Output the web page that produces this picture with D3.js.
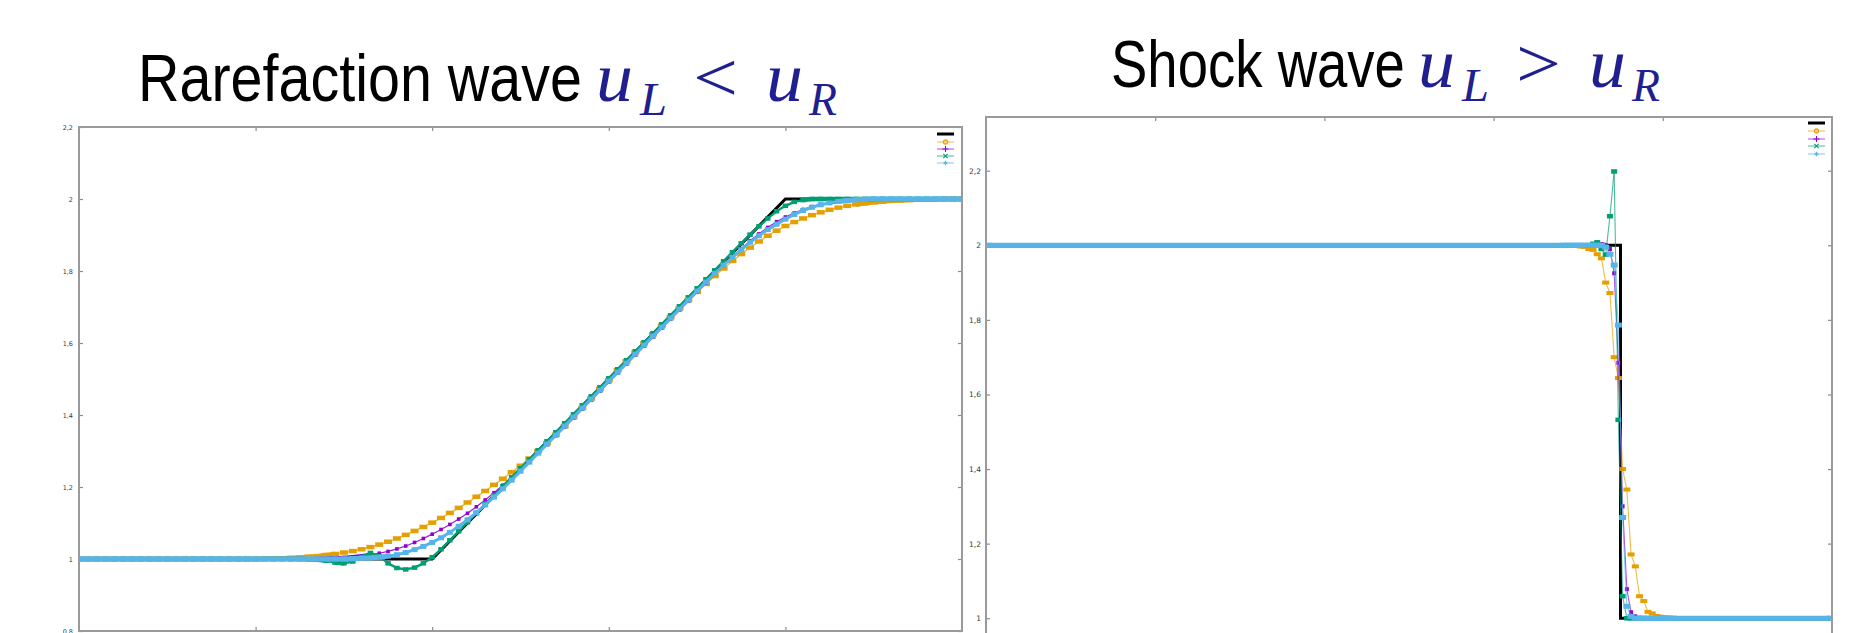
<!DOCTYPE html>
<html><head><meta charset="utf-8">
<script src="https://cdn.jsdelivr.net/npm/d3@7"></script>
<style>html,body{margin:0;padding:0;background:#fff;} svg{display:block;}</style>
</head><body>
<svg id="chart" width="1860" height="633"></svg>
<script>
// ---------------- DATA ----------------
const titleLeft = "Rarefaction wave";
const titleRight = "Shock wave";
const mathLeft = ["u", "L", "<", "u", "R"];
const mathRight = ["u", "L", ">", "u", "R"];

const leftYTicks = [0.8, 1, 1.2, 1.4, 1.6, 1.8, 2, 2.2];
const leftYLabels = ["0,8", "1", "1,2", "1,4", "1,6", "1,8", "2", "2,2"];
const rightYTicks = [1, 1.2, 1.4, 1.6, 1.8, 2, 2.2];
const rightYLabels = ["1", "1,2", "1,4", "1,6", "1,8", "2", "2,2"];
const leftXTicks = [0.2, 0.4, 0.6, 0.8];
const rightXTicks = [40, 80, 120, 160];

// Rarefaction: values at grid points i/100, i = 0..100
const leftGridSize = 100;
const leftExactX = [0, 0.4, 0.8, 1];
const leftExactY = [1, 1, 2, 2];
const leftOrange = [1,1,1,1,1,1,1,1,1,1,1,1,1,1,1,1,1,1,1,1,
  1.000,1.001,1.001,1.002,1.003,1.004,1.006,1.008,1.011,1.014,
  1.018,1.022,1.027,1.033,1.040,1.048,1.057,1.067,1.078,1.089,
  1.101,1.114,1.128,1.142,1.157,1.173,1.189,1.206,1.223,1.241,
  1.259,1.279,1.300,1.322,1.345,1.369,1.394,1.420,1.446,1.472,
  1.497,1.524,1.549,1.574,1.599,1.624,1.648,1.672,1.696,1.719,
  1.742,1.764,1.786,1.807,1.828,1.847,1.865,1.882,1.898,1.912,
  1.925,1.936,1.946,1.955,1.963,1.970,1.976,1.981,1.985,1.988,
  1.991,1.993,1.995,1.996,1.997,1.998,1.999,1.999,2,2,2];
const leftPurple = [1,1,1,1,1,1,1,1,1,1,1,1,1,1,1,1,1,1,1,1,1,1,1,1,1,1,
  1.000,1.001,1.002,1.003,
  1.004,1.006,1.009,1.012,1.016,1.021,1.028,1.036,1.046,1.057,
  1.069,1.082,1.096,1.111,1.127,1.145,1.164,1.184,1.205,1.226,
  1.248,1.271,1.294,1.318,1.342,1.366,1.391,1.416,1.441,1.466,
  1.491,1.516,1.541,1.566,1.591,1.616,1.641,1.666,1.691,1.716,
  1.741,1.766,1.791,1.815,1.839,1.862,1.884,1.903,1.921,1.937,
  1.950,1.961,1.971,1.979,1.985,1.990,1.993,1.995,1.997,1.998,
  1.999,2,2,2,2,2,2,2,2,2,2];
const leftGreen = [1,1,1,1,1,1,1,1,1,1,1,1,1,1,1,1,1,1,1,1,1,1,1,1,1,1,
  0.999,0.998,0.995,0.990,
  0.988,0.993,1.006,1.017,1.008,0.988,0.975,0.971,0.976,0.988,
  1.005,1.027,1.052,1.077,1.102,1.127,1.152,1.177,1.202,1.227,
  1.252,1.277,1.302,1.327,1.352,1.377,1.402,1.427,1.452,1.477,
  1.502,1.527,1.552,1.577,1.602,1.627,1.652,1.677,1.702,1.727,
  1.752,1.777,1.802,1.827,1.852,1.877,1.901,1.924,1.946,1.966,
  1.981,1.992,1.997,
  2,2,2,2,2,2,2,2,2,2,2,2,2,2,2,2,2,2];
const leftBlue = [1,1,1,1,1,1,1,1,1,1,1,1,1,1,1,1,1,1,1,1,1,1,1,1,1,1,1,1,1,1,
  1.000,1.001,1.002,1.003,1.005,1.008,1.012,1.018,1.026,1.035,
  1.046,1.059,1.074,1.091,1.109,1.129,1.150,1.172,1.195,1.219,
  1.244,1.269,1.294,1.319,1.344,1.369,1.394,1.419,1.444,1.469,
  1.494,1.519,1.544,1.569,1.594,1.619,1.644,1.669,1.694,1.719,
  1.744,1.769,1.793,1.816,1.838,1.859,1.880,1.898,1.915,1.930,
  1.944,1.957,1.968,1.977,1.984,1.989,1.993,1.996,1.998,1.999,
  2,2,2,2,2,2,2,2,2,2,2];

// Shock: 200 cells; values listed at these cell indices
const rightCells = [0,136,137,138,139,140,141,142,143,144,145,146,147,148,149,150,151,152,153,154,155,156,157,158,159,160,161,162,199];
const rightExactX = [0, 150, 150, 200];
const rightExactY = [2, 2, 1, 1];
const rightOrange = [2, 2,2,1.999,1.999,1.997,1.996,1.990,1.988,1.976,1.965,1.900,1.872,1.700,1.644,1.400,1.345,1.171,1.139,1.059,1.046,1.017,1.013,1.006,1.004,1.002,1.001,1, 1];
const rightPurple = [2, 2,2,2,2,2,2,2,2,2,2.003,2.001,1.990,1.925,1.685,1.300,1.078,1.016,1.005,1.001,1,1,1,1,1,1,1,1, 1];
const rightGreen  = [2, 2,2,2,2,2,2,2.000,2.004,2.008,1.990,1.975,2.078,2.198,1.532,1.059,1.000,1,1,1,1,1,1,1,1,1,1,1, 1];
const rightBlue   = [2, 2,2,2,2,2,2,2,2,2,2,1.995,1.976,1.947,1.786,1.270,1.032,1.005,1,1,1,1,1,1,1,1,1,1, 1];

// ---------------- STYLES ----------------
const colors = {black: "#000000", orange: "#E69F00", purple: "#9400D3", green: "#009E73", blue: "#56B4E9"};
const mathColor = "#1f1f8f";

const svg = d3.select("#chart");
svg.append("rect").attr("width", 1860).attr("height", 633).attr("fill", "#fff");
const defs = svg.append("defs");

// ---------------- TITLES ----------------
// horizontally scaled via transform so the real box matches the drawn width
function fitText(sel, x, y, target) {
  const w = sel.node().getComputedTextLength();
  const sx = w > 0 ? target / w : 1;
  sel.attr("transform", `translate(${x},${y}) scale(${sx},1)`);
}
function title(text, mathParts, o) {
  const g = svg.append("g");
  const main = g.append("text").attr("x", 0).attr("y", 0).text(text)
    .attr("font-family", "Liberation Sans, Arial, sans-serif").attr("font-size", 66).attr("fill", "#000");
  fitText(main, o.x, o.base, o.width);
  mathParts.forEach((m, i) => {
    const kind = o.kinds[i];
    const t = g.append("text").attr("x", 0).attr("y", 0).text(m)
      .attr("font-family", "Liberation Serif, Times New Roman, serif")
      .attr("font-style", kind === 2 ? "normal" : "italic")
      .attr("font-size", kind === 1 ? 46 : 70)
      .attr("fill", mathColor);
    fitText(t, o.mx[i], o.base + (kind === 1 ? 14 : 0), o.mw[i]);
  });
}
title(titleLeft, mathLeft, {x: 138, base: 101, width: 444,
  kinds: [0, 1, 2, 0, 1], mx: [596, 640, 693, 766, 809], mw: [37, 27, 45, 37, 28]});
title(titleRight, mathRight, {x: 1111, base: 87, width: 294,
  kinds: [0, 1, 2, 0, 1], mx: [1418, 1462, 1516, 1589, 1632], mw: [37, 27, 45, 37, 28]});

// ---------------- PANELS ----------------
function panel(p) {
  const x = d3.scaleLinear().domain(p.xDomain).range([p.x0, p.x1]);
  const y = d3.scaleLinear().domain(p.yDomain).range([p.yB, p.yT]);
  defs.append("clipPath").attr("id", p.id).append("rect")
    .attr("x", p.x0).attr("y", p.yT).attr("width", p.x1 - p.x0).attr("height", p.yB - p.yT);
  const g = svg.append("g");
  const gL = g.append("g").attr("transform", `translate(${p.x0},0)`)
    .call(d3.axisLeft(y).tickValues(p.yTicks).tickFormat((d, i) => p.yLabels[i]).tickSize(-p.tick).tickPadding(p.pad));
  g.append("g").attr("transform", `translate(${p.x1},0)`)
    .call(d3.axisRight(y).tickValues(p.yTicks).tickFormat("").tickSize(-p.tick));
  g.append("g").attr("transform", `translate(0,${p.yT})`)
    .call(d3.axisTop(x).tickValues(p.xTicks).tickFormat("").tickSize(-p.tick));
  g.append("g").attr("transform", `translate(0,${p.yB})`)
    .call(d3.axisBottom(x).tickValues(p.xTicks).tickFormat("").tickSize(-p.tick));
  g.selectAll(".domain").remove();
  g.selectAll(".tick line").attr("stroke", "#8a8a8a").attr("stroke-width", 1.2);
  gL.selectAll("text").attr("font-size", p.fs).attr("fill", "#3a3a3a").attr("font-family", "DejaVu Sans");

  const plot = g.append("g").attr("clip-path", `url(#${p.id})`);
  plot.append("path")
    .attr("d", d3.line().x(d => x(d[0])).y(d => y(d[1]))(p.exact))
    .attr("fill", "none").attr("stroke", colors.black).attr("stroke-width", p.exactW);

  p.series.forEach(s => {
    const P = s.pts.map(d => [x(d[0]), y(d[1])]);
    const sg = plot.append("g");
    for (let k = 0; k < P.length - 1; k++) {
      const a = P[k], b = P[k + 1];
      const flat = Math.abs(b[1] - a[1]) < 1.3;
      sg.append("line").attr("x1", a[0]).attr("y1", a[1]).attr("x2", b[0]).attr("y2", b[1])
        .attr("stroke", s.color)
        .attr("stroke-width", flat ? s.mh : s.lw)
        .attr("stroke-opacity", flat ? 1 : s.lo);
    }
    sg.selectAll("rect.m").data(P).join("rect").attr("class", "m")
      .attr("x", d => d[0] - s.mw / 2).attr("y", d => d[1] - s.mh / 2)
      .attr("width", s.mw).attr("height", s.mh).attr("fill", s.color);
  });

  g.append("rect").attr("x", p.x0).attr("y", p.yT).attr("width", p.x1 - p.x0).attr("height", p.yB - p.yT)
    .attr("fill", "none").attr("stroke", "#9a9a9a").attr("stroke-width", 2);

  const lg = g.append("g");
  const keys = ["black", "orange", "purple", "green", "blue"];
  const syms = [null, d3.symbolCircle, d3.symbolPlus, d3.symbolTimes, d3.symbolAsterisk];
  keys.forEach((k, i) => {
    const yy = p.legY[i];
    lg.append("line").attr("x1", p.legX[0]).attr("x2", p.legX[1]).attr("y1", yy).attr("y2", yy)
      .attr("stroke", colors[k]).attr("stroke-width", i === 0 ? 3 : 1.2).attr("stroke-opacity", i === 0 ? 1 : 0.6);
    if (syms[i]) {
      lg.append("path").attr("transform", `translate(${(p.legX[0] + p.legX[1]) / 2},${yy})`)
        .attr("d", d3.symbol().type(syms[i]).size(14)())
        .attr("fill", i === 1 ? "#f5d58a" : "none").attr("stroke", colors[k]).attr("stroke-width", 1.1);
    }
  });
}

const leftPts = arr => arr.map((v, i) => [i / leftGridSize, v]);
const rightPts = arr => arr.map((v, i) => [rightCells[i] + 0.5, v]);

panel({
  id: "clipL", xDomain: [0, 1], yDomain: [0.8, 2.2], x0: 79, x1: 962, yT: 127, yB: 631,
  yTicks: leftYTicks, yLabels: leftYLabels, xTicks: leftXTicks, tick: 4, pad: 6, fs: 6.5,
  exact: leftExactX.map((v, i) => [v, leftExactY[i]]), exactW: 3,
  series: [
    {pts: leftPts(leftOrange), color: colors.orange, lw: 1.2, lo: 0.8, mw: 8, mh: 4.5},
    {pts: leftPts(leftPurple), color: colors.purple, lw: 1.2, lo: 0.9, mw: 3.6, mh: 3.6},
    {pts: leftPts(leftGreen), color: colors.green, lw: 2.4, lo: 1, mw: 5.5, mh: 4.5},
    {pts: leftPts(leftBlue), color: colors.blue, lw: 3, lo: 1, mw: 6, mh: 5}
  ],
  legX: [937, 954], legY: [134, 142, 149, 156, 163]
});

panel({
  id: "clipR", xDomain: [0, 200], yDomain: [0.8, 2.344], x0: 986, x1: 1832, yT: 117, yB: 692.8,
  yTicks: rightYTicks, yLabels: rightYLabels, xTicks: rightXTicks, tick: 4, pad: 5, fs: 7.5,
  exact: rightExactX.map((v, i) => [v, rightExactY[i]]), exactW: 3,
  series: [
    {pts: rightPts(rightOrange), color: colors.orange, lw: 1.1, lo: 0.7, mw: 7, mh: 4},
    {pts: rightPts(rightPurple), color: colors.purple, lw: 1.1, lo: 0.7, mw: 4, mh: 4},
    {pts: rightPts(rightGreen), color: colors.green, lw: 1.1, lo: 0.7, mw: 6, mh: 4.5},
    {pts: rightPts(rightBlue), color: colors.blue, lw: 1.1, lo: 0.7, mw: 7, mh: 5}
  ],
  legX: [1808, 1825], legY: [123, 131, 139, 146, 154]
});
</script>
</body></html>
